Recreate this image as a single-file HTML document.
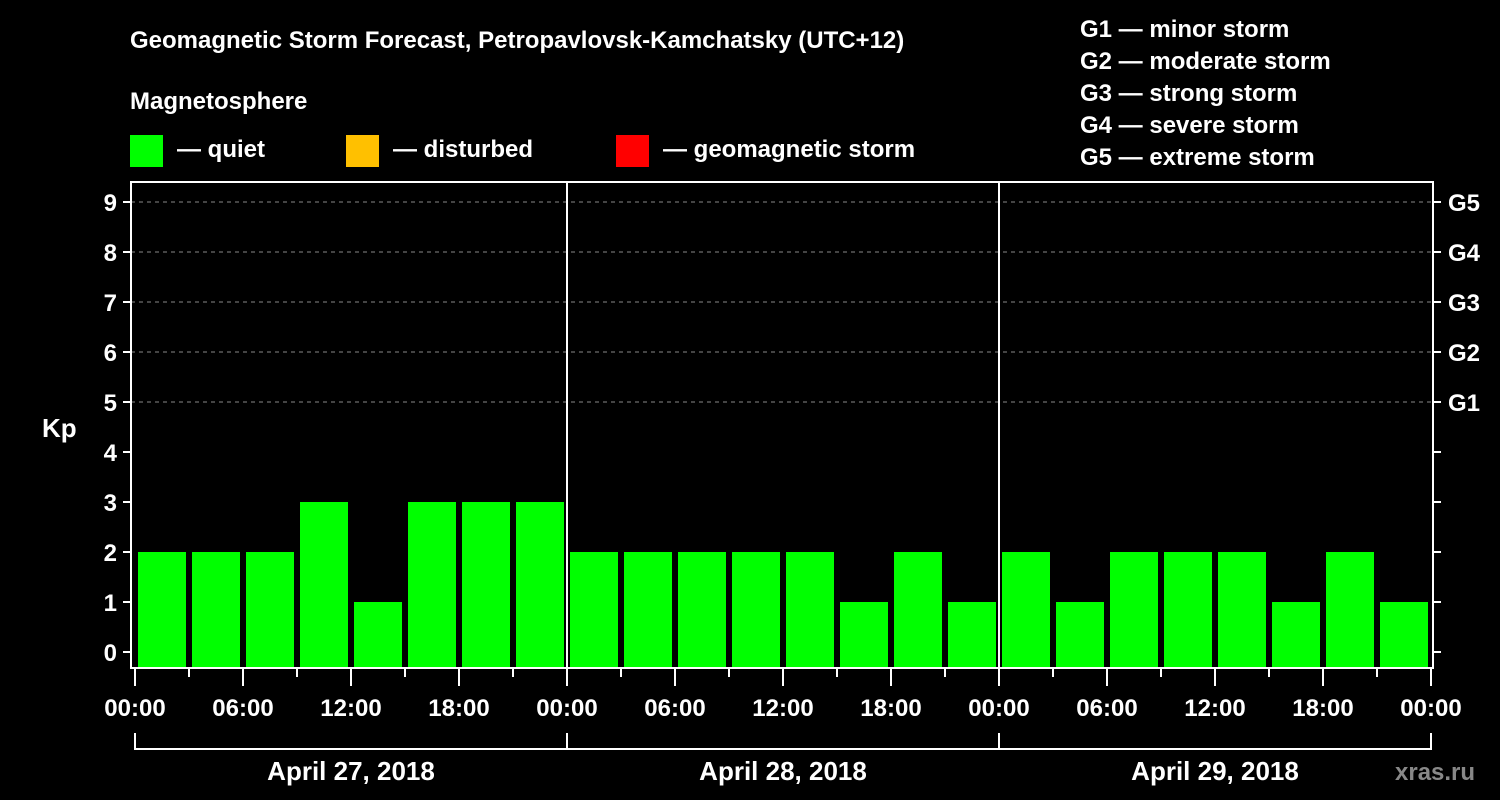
<!DOCTYPE html>
<html><head><meta charset="utf-8"><style>
html,body{margin:0;padding:0;background:#000;}
svg{display:block;font-family:"Liberation Sans",Arial,sans-serif;font-weight:bold;}
</style></head><body>
<svg id="chart" width="1500" height="800" viewBox="0 0 1500 800">
<rect width="1500" height="800" fill="#000"/>
<text x="130" y="48" fill="#fff" font-size="24">Geomagnetic Storm Forecast, Petropavlovsk-Kamchatsky (UTC+12)</text>
<text x="130" y="109" fill="#fff" font-size="24">Magnetosphere</text>
<g><rect x="130" y="135" width="33" height="32" fill="#00ff00"/><text x="177" y="157" fill="#fff" font-size="24">— quiet</text></g>
<g><rect x="346" y="135" width="33" height="32" fill="#ffc000"/><text x="393" y="157" fill="#fff" font-size="24">— disturbed</text></g>
<g><rect x="616" y="135" width="33" height="32" fill="#ff0000"/><text x="663" y="157" fill="#fff" font-size="24">— geomagnetic storm</text></g>
<g fill="#fff" font-size="24">
<text x="1080" y="37">G1 — minor storm</text>
<text x="1080" y="69">G2 — moderate storm</text>
<text x="1080" y="101">G3 — strong storm</text>
<text x="1080" y="133">G4 — severe storm</text>
<text x="1080" y="165">G5 — extreme storm</text>
</g>
<text x="42" y="437" fill="#fff" font-size="26">Kp</text>
<text x="1395" y="780" fill="#888" font-size="24">xras.ru</text>
<g id="plot"></g>
</svg>
<script>
const kpValues = [2,2,2,3,1,3,3,3, 2,2,2,2,2,1,2,1, 2,1,2,2,2,1,2,1];
const dayLabels = ["April 27, 2018","April 28, 2018","April 29, 2018"];
const hourLabels = ["00:00","06:00","12:00","18:00"];
const yTicks = [0,1,2,3,4,5,6,7,8,9];
const gLabels = [[5,"G1"],[6,"G2"],[7,"G3"],[8,"G4"],[9,"G5"]];

const NS="http://www.w3.org/2000/svg";
const g=document.getElementById('plot');
const X0=135, DAYW=432, SLOT=54, TOP=182, BOT=668, L=131, R=1433;
const y=v=>652-50*v;
const x=i=>X0+i*SLOT;
function mk(t,a,parent){const e=document.createElementNS(NS,t);for(const k in a)e.setAttribute(k,a[k]);(parent||g).appendChild(e);return e;}

// gridlines
yTicks.forEach(v=>{if(v>=5){const l=mk('line',{x1:L,x2:R,y1:y(v),y2:y(v),stroke:'#888','stroke-dasharray':'4,4','stroke-width':1});

}});
// bars
kpValues.forEach((v,i)=>{const b=mk('rect',{x:x(i)+3,y:y(v),width:48,height:BOT-y(v),fill:v>=5?'#ff0000':(v>=4?'#ffc000':'#00ff00')});

});
// frame
const fr=mk('rect',{x:L,y:TOP,width:R-L,height:BOT-TOP,fill:'none',stroke:'#fff','stroke-width':2});


for(let d=1;d<dayLabels.length;d++){const s=mk('line',{x1:X0+d*DAYW,x2:X0+d*DAYW,y1:TOP,y2:BOT,stroke:'#fff','stroke-width':2});

}
// y ticks
yTicks.forEach(v=>{
  mk('line',{x1:L-8,x2:L,y1:y(v),y2:y(v),stroke:'#fff','stroke-width':2});
  mk('line',{x1:R,x2:R+8,y1:y(v),y2:y(v),stroke:'#fff','stroke-width':2});
  const t=mk('text',{x:L-14,y:y(v)+9,fill:'#fff','font-size':24,'text-anchor':'end'});t.textContent=v;
  
  
});
gLabels.forEach(([v,s])=>{const t=mk('text',{x:R+15,y:y(v)+9,fill:'#fff','font-size':24});t.textContent=s;

});
// x ticks
const nSlots=dayLabels.length*8;
for(let i=0;i<=nSlots;i++){const major=i%2===0;mk('line',{x1:x(i),x2:x(i),y1:BOT,y2:BOT+(major?18:9),stroke:'#fff','stroke-width':2});
 if(major){const t=mk('text',{x:x(i),y:716,fill:'#fff','font-size':24,'text-anchor':'middle'});t.textContent=hourLabels[(i/2)%4];
 
 }}
// day brackets
dayLabels.forEach((d,k)=>{const a=X0+k*DAYW,b=a+DAYW;
 mk('path',{d:`M${a},733V749H${b}V733`,fill:'none',stroke:'#fff','stroke-width':2});
 const t=mk('text',{x:(a+b)/2,y:780,fill:'#fff','font-size':26,'text-anchor':'middle'});t.textContent=d;
 
 });
</script>
</body></html>
